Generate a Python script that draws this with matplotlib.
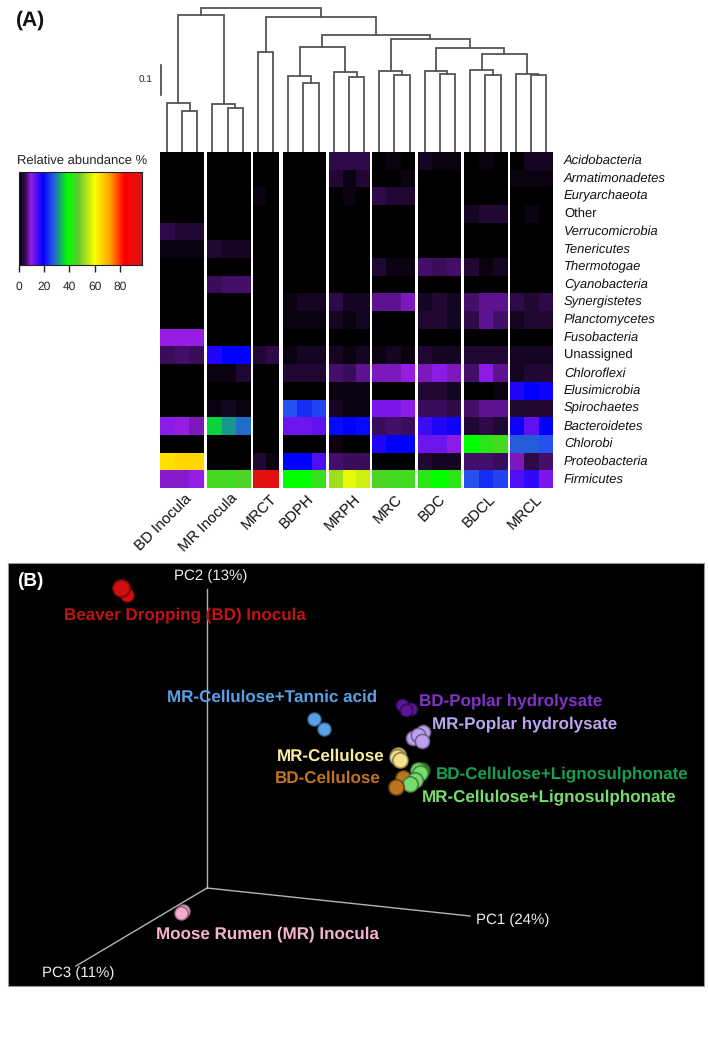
import numpy as np
import matplotlib
matplotlib.use("Agg")
import matplotlib.pyplot as plt
from matplotlib.colors import LinearSegmentedColormap, to_rgb

plt.rcParams['font.family'] = ['Liberation Sans', 'DejaVu Sans']
plt.rcParams['text.hinting'] = 'no_hinting'
plt.rcParams['text.hinting_factor'] = 1

W, H = 708, 1042

#%% data
phyla = ["Acidobacteria", "Armatimonadetes", "Euryarchaeota", "Other", "Verrucomicrobia",
         "Tenericutes", "Thermotogae", "Cyanobacteria", "Synergistetes", "Planctomycetes",
         "Fusobacteria", "Unassigned", "Chloroflexi", "Elusimicrobia", "Spirochaetes",
         "Bacteroidetes", "Chlorobi", "Proteobacteria", "Firmicutes"]
plain_rows = ["Other", "Unassigned"]
samples = ["BD Inocula", "MR Inocula", "MRCT", "BDPH", "MRPH", "MRC", "BDC", "BDCL", "MRCL"]

# one row per phylum, one column per replicate
bd_inocula = [[0,0,0],[0,0,0],[0,0,0],[0,0,0],[4,3,3],[1,1,1],[0,0,0],[0,0,0],[0,0,0],[0,0,0],
              [9,9,9],[5,6,5],[0,0,0],[0,0,0],[0,0,0],[10,9,8],[0,0,0],[64,65,65],[8.5,8.5,9]]
mr_inocula = [[0,0,0],[0,0,0],[0,0,0],[0,0,0],[0,0,0],[3,2,2],[0,0,0],[5,6,6],[0,0,0],[0,0,0],
              [0,0,0],[17,19,19],[1,1,3],[0,0,0],[1,2,1],[35,31,28],[0,0,0],[0,0,0],[44,44,45]]
mrct = [[0,0],[0,0],[1,0],[0,0],[0,0],[0,0],[0,0],[0,0],[0,0],[0,0],
        [0,0],[3,4],[0,0],[0,0],[0,0],[0,0],[0,0],[3,1],[95,94]]
bdph = [[0,0,0],[0,0,0],[0,0,0],[0,0,0],[0,0,0],[0,0,0],[0,0,0],[0,0,0],[1,2,2],[1,1,1],
        [0,0,0],[1,2,2],[3,3,3],[0,0,0],[26,23,25],[12,12,13],[0,0,0],[19,19,14],[38,38,43]]
mrph = [[4,4,4],[3,1,3],[0,1,0],[0,0,0],[0,0,0],[0,0,0],[0,0,0],[0,0,0],[4,2,2],[2,1,2],
        [0,0,0],[2,1,2],[6,5,7],[1,1,1],[2,1,1],[20,19,20],[1,0,0],[6,5,5],[52,58,56]]
mrc = [[0,1,0],[0,0,1],[4,3,3],[0,0,0],[0,0,0],[0,0,0],[3,1,1],[0,0,0],[7,7,8],[0,0,0],
       [0,0,0],[1,2,1],[8,8,9],[0,0,0],[11,11,10],[5,6,5],[17,19,19],[0,0,0],[45,44,44]]
bdc = [[2,1,1],[0,0,0],[0,0,0],[0,0,0],[0,0,0],[0,0,0],[6,5,6],[0,0,0],[2,3,2],[3,3,2],
       [0,0,0],[3,2,2],[8,10,8],[3,3,2],[5,5,4],[15,17,18],[12,12,10],[3,2,2],[42,38,42]]
bdcl = [[0,1,0],[0,0,0],[0,0,0],[2,3,3],[0,0,0],[0,0,0],[3,1,2],[0,0,0],[6,7,7],[4,7,6],
        [0,0,0],[3,3,3],[6,10,7],[0,0,1],[6,7,7],[3,4,3],[38,42,44],[6,6,5],[26,23,25]]
mrcl = [[0,2,2],[1,1,1],[0,0,0],[0,1,0],[0,0,0],[0,0,0],[0,0,0],[0,0,0],[4,3,4],[2,3,3],
        [0,0,0],[2,2,2],[2,3,3],[17,19,18],[3,3,3],[18,13,19],[27,27,26],[8,4,6],[14,16,11]]
tables = [bd_inocula, mr_inocula, mrct, bdph, mrph, mrc, bdc, bdcl, mrcl]

# dendrogram joins: (name, left, right, height), leaves are 0..25
tree = [("a", 1, 2, .137), ("BD", 0, "a", .164),
        ("b", 4, 5, .147), ("MR", 3, "b", .161),
        ("MRCT", 6, 7, .332),
        ("c", 9, 10, .231), ("BDPH", 8, "c", .253),
        ("d", 12, 13, .251), ("MRPH", 11, "d", .268),
        ("e", 15, 16, .258), ("MRC", 14, "e", .271),
        ("f", 18, 19, .261), ("BDC", 17, "f", .271),
        ("g", 21, 22, .256), ("BDCL", 20, "g", .272),
        ("h", 24, 25, .258), ("MRCL", 23, "h", .261),
        ("i", "BDCL", "MRCL", .327), ("j", "BDC", "i", .346), ("k", "MRC", "j", .376),
        ("l", "BDPH", "MRPH", .349), ("m", "l", "k", .391), ("n", "MRCT", "m", .449),
        ("o", "BD", "MR", .457), ("root", "o", "n", .479)]

cbar_ticks = [0, 20, 40, 60, 80]
cbar_max = 97
cmap_stops = [(0, "#000000"), (6, "#46106e"), (9, "#9a1ee6"), (19, "#0000ff"), (26, "#2850f0"), (38, "#00ff00"),
              (47, "#64c832"), (60, "#ffff00"), (72, "#ffa000"), (83, "#ff0000"), (97, "#dc1414")]

pc_labels = ["PC1 (24%)", "PC2 (13%)", "PC3 (11%)"]
pc_origin = (207, 888)
pc_ends = [(470, 916), (207, 589), (76, 966)]

# PCoA samples as seen on screen (x, y, radius), back to front
sphere_x = [[127, 121], [183, 181], [314, 324], [402, 411, 406], [423, 413, 418, 422], [398, 397, 400],
            [422], [403], [418, 420, 415, 410], [396]]
sphere_y = [[595, 588], [911, 913], [719, 729], [705, 709, 710], [732, 738, 735, 741], [755, 757, 760],
            [770], [778], [770, 773, 780, 784], [787]]
sphere_r = [[7, 9], [7, 7], [7, 7], [6.5, 6.5, 6.5], [7.5, 7.5, 7.5, 7.5], [8, 8, 8],
            [8], [8], [8, 8, 8, 8], [8]]
sphere_c = ["#d01010", "#f5a8d0", "#5aa0e6", "#5a1496", "#bea0f0", "#f5e18c",
            "#288c3c", "#be7320", "#78dc6e", "#be7320"]

pcoa_labels = ["Beaver Dropping (BD) Inocula", "MR-Cellulose+Tannic acid", "BD-Poplar hydrolysate",
               "MR-Poplar hydrolysate", "MR-Cellulose", "BD-Cellulose",
               "BD-Cellulose+Lignosulphonate", "MR-Cellulose+Lignosulphonate", "Moose Rumen (MR) Inocula"]
pcoa_label_x = [64, 167, 419, 432, 277, 275, 436, 422, 156]
pcoa_label_y = [615, 697, 701, 724, 756, 778, 774, 797, 934]
pcoa_colors = ["#be1414", "#5aa0e6", "#8232c8", "#bea5f0", "#faeba0", "#be7328",
               "#14a050", "#78dc6e", "#f5b4d2"]

#%% layout, in pixels from the top left of the picture
panel_x0 = [160, 207, 253, 283, 329, 372, 418, 464, 510]
panel_x1 = [204, 250, 279, 326, 369, 415, 461, 507, 553]
label_end_x = [190, 236, 275, 311, 358, 400, 443, 493, 540]
heat_top, heat_bottom = 152, 488


def px_axes(x0, y0, x1, y1):
    return fig.add_axes([x0 / W, 1 - y1 / H, (x1 - x0) / W, (y1 - y0) / H])


fig = plt.figure(figsize=(W / 100, H / 100), dpi=100, facecolor="white")
cmap = LinearSegmentedColormap.from_list("abund", [(v / cbar_max, c) for v, c in cmap_stops], N=512)

#%% heatmap
for name, table, x0, x1, xe in zip(samples, tables, panel_x0, panel_x1, label_end_x):
    ax = px_axes(x0, heat_top, x1, heat_bottom)
    ax.imshow(np.array(table), cmap=cmap, vmin=0, vmax=cbar_max, aspect="auto", interpolation="nearest")
    ax.axis("off")
    fig.text(xe / W, 1 - 497 / H, name, rotation=45, ha="right", va="center",
             rotation_mode="anchor", fontsize=10.5, color="#111111")

row_h = (heat_bottom - heat_top) / len(phyla)
for i, name in enumerate(phyla):
    fig.text(564 / W, 1 - (heat_top + (i + 0.5) * row_h) / H, name, ha="left", va="center", fontsize=9,
             style="normal" if name in plain_rows else "italic", color="#111111")

#%% dendrogram
ax = px_axes(160, 0, 553, heat_top)
ax.set_xlim(-(167 - 160) / 15.16, 25 + (553 - 546) / 15.16)
ax.set_ylim(0, heat_top / 300)
ax.axis("off")
pos = {i: (float(i), 0.0) for i in range(26)}
for name, left, right, h in tree:
    xl, hl = pos[left]
    xr, hr = pos[right]
    ax.plot([xl, xl, xr, xr], [hl, h, h, hr], color="#555555", lw=1.3, solid_joinstyle="miter")
    pos[name] = ((xl + xr) / 2, h)

# scale bar
ax2 = px_axes(150, 0, 170, heat_top)
ax2.set_xlim(0, 20)
ax2.set_ylim(0, heat_top / 300)
ax2.axis("off")
ax2.plot([11, 11], [(152 - 95) / 300, (152 - 95) / 300 + 0.1], color="#444444", lw=1.2)
fig.text(146 / W, 1 - 80 / H, "0.1", ha="center", va="center", fontsize=7.5, color="#222222")

#%% colour key
ax = px_axes(18.7, 172, 141.7, 265)
grad = np.linspace(0, cbar_max, 256).reshape(1, -1)
ax.imshow(grad, cmap=cmap, vmin=0, vmax=cbar_max, aspect="auto", extent=[0, cbar_max, 0, 1])
ax.set_yticks([])
ax.set_xticks(cbar_ticks)
ax.tick_params(axis="x", length=5, width=1, labelsize=8.5, pad=7, colors="#222222")
for s in ax.spines.values():
    s.set_linewidth(0.8)
    s.set_color("#222222")
fig.text(82 / W, 1 - 161 / H, "Relative abundance %", ha="center", va="center", fontsize=9.7, color="#222222")

fig.text(16 / W, 1 - 20 / H, "(A)", ha="left", va="center", fontsize=15, fontweight="bold", color="#111111")

#%% PCoA panel
ax = px_axes(8, 563, 704, 986)
ax.set_xlim(8, 704)
ax.set_ylim(986, 563)
ax.set_facecolor("black")
ax.set_xticks([])
ax.set_yticks([])
for s in ax.spines.values():
    s.set_color("#999999")
    s.set_linewidth(0.8)

for end in pc_ends:
    ax.plot([pc_origin[0], end[0]], [pc_origin[1], end[1]], color="#b4b4b4", lw=1, zorder=1)
ax.text(476, 920, pc_labels[0], color="#eeeeee", fontsize=11.05, va="center", ha="left")
ax.text(174, 576, pc_labels[1], color="#eeeeee", fontsize=11.05, va="center", ha="left")
ax.text(42, 973, pc_labels[2], color="#eeeeee", fontsize=11.05, va="center", ha="left")

for lab, x, y, c in zip(pcoa_labels, pcoa_label_x, pcoa_label_y, pcoa_colors):
    ax.text(x, y, lab, color=c, fontsize=12.55, fontweight="bold", va="center", ha="left", zorder=3)

z = 10
for xs, ys, rs, c in zip(sphere_x, sphere_y, sphere_r, sphere_c):
    base = np.array(to_rgb(c))
    for x, y, r in zip(xs, ys, rs):
        # stacked discs give the shaded ball look
        for frac in np.linspace(1.05, 0.2, 8):
            shade = base * min(1.0, 0.5 + 2.2 * (1.05 - frac))
            shift = (1.05 - frac) * r * 0.15
            ax.scatter(x - shift, y - shift, s=(2 * r * frac * 0.72) ** 2, color=shade, linewidths=0, zorder=z)
            z += 1

ax.text(17, 581, "(B)", color="white", fontsize=14, fontweight="bold", va="center", ha="left")

fig.savefig("out.png", dpi=100)
